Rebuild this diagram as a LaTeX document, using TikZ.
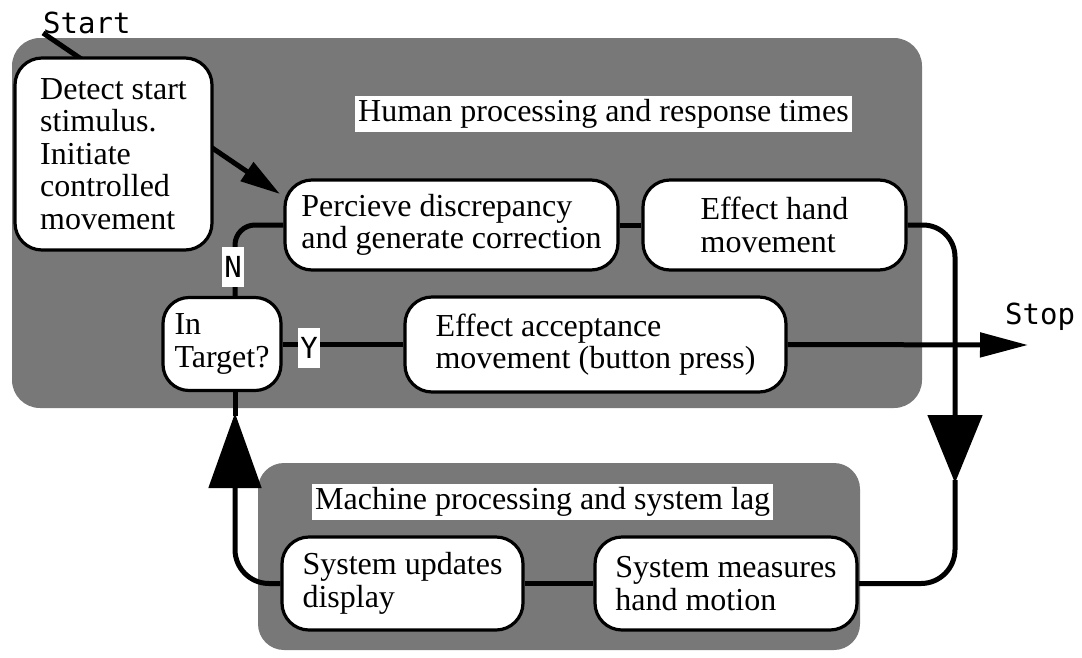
\documentclass[tikz,border=0pt]{standalone}
\usepackage{fontspec}
\setmainfont{Liberation Serif}
\newfontfamily\monolbl{DejaVu Sans Mono}
\usetikzlibrary{arrows.meta,calc}
\pgfdeclarelayer{regions}
\pgfdeclarelayer{lines}
\pgfsetlayers{regions,lines,main}
\tikzset{
  region/.style={fill=black!53, draw=none, rounded corners=28pt},
  stepbox/.style={draw=black, line width=3.2pt, fill=white, rounded corners=27pt,
    align=left, inner sep=2pt, font=\fontsize{32}{32.5}\selectfont},
  titlebox/.style={fill=white, inner sep=3pt, font=\fontsize{32}{32.5}\selectfont},
  yn/.style={fill=white, inner sep=0pt, minimum width=22pt, minimum height=40pt,
    font=\monolbl\fontsize{29}{30}\selectfont},
  monotext/.style={inner sep=0pt, font=\monolbl\fontsize{29}{30}\selectfont},
  conn/.style={draw=black, line width=5pt},
}
\begin{document}
\begin{tikzpicture}[x=1pt,y=-1pt]
\useasboundingbox (0,0) rectangle (1082,657);

% nodes
\node[stepbox, minimum width=197pt, minimum height=192pt] (detect) at (113.5,154)
  {Detect start\\stimulus.\\Initiate\\controlled\\movement};
\node[stepbox, minimum width=333pt, minimum height=90pt] (perceive) at (451.5,225)
  {Percieve discrepancy\\and generate correction};
\node[stepbox, minimum width=263pt, minimum height=90pt] (effecthand) at (774.5,225)
  {Effect hand\\movement};
\node[stepbox, minimum width=118pt, minimum height=93pt, rounded corners=26pt] (intarget) at (222,344)
  {In\\Target?};
\node[stepbox, minimum width=381pt, minimum height=95pt] (accept) at (595.5,344.5)
  {Effect acceptance\\movement (button press)};
\node[stepbox, minimum width=241pt, minimum height=93pt] (updates) at (402.5,583.5)
  {System updates\\display};
\node[stepbox, minimum width=262pt, minimum height=93pt] (measures) at (726,583.5)
  {System measures\\hand motion};

\node[titlebox, anchor=west] (humantitle) at (355,114) {Human processing and response times};
\node[titlebox, anchor=west] (machinetitle) at (312,502) {Machine processing and system lag};

\node[monotext, anchor=base west] (startlbl) at (43,33) {Start};
\node[monotext, anchor=base west] (stoplbl) at (1005,324) {Stop};

\coordinate (nx) at (235,0);
\coordinate (starttip) at (280,194);
\coordinate (stoptip) at (1028,345);
\coordinate (downtip) at (955,483);
\coordinate (uptip) at (235,413);

\node[yn] (nlbl) at (233,267) {N};
\node[yn] (ylbl) at (309,348) {Y};

% regions
\begin{pgfonlayer}{regions}
  \path[region] (12,38) rectangle (922,408);
  \path[region, rounded corners=26pt] (258,463) rectangle (860,650);
\end{pgfonlayer}

% connectors
\begin{pgfonlayer}{lines}
  \draw[conn, -{Triangle[length=40pt,width=22pt]}] (startlbl.base west) -- (starttip);
  \draw[conn] (perceive.east) -- (effecthand.west);
  \draw[conn, rounded corners=20pt] (intarget.north -| nx) |- (perceive.west);
  \draw[conn] (intarget.east) -- (intarget.east -| accept.west);
  \draw[conn, -{Triangle[length=48pt,width=24pt]}] (accept.east) -- (stoptip);
  \draw[conn, rounded corners=32pt, -{Triangle[length=68pt,width=54pt]}] (effecthand.east) -| (downtip);
  \draw[conn, rounded corners=34pt] ($(downtip)+(0,-3)$) |- (measures.east);
  \draw[conn] (updates.east) -- (measures.west);
  \draw[conn, rounded corners=34pt, -{Triangle[length=75pt,width=52pt]}] (updates.west) -| (uptip);
  \draw[conn] ($(uptip)+(0,3)$) -- (intarget.south -| uptip);
\end{pgfonlayer}
\end{tikzpicture}
\end{document}
